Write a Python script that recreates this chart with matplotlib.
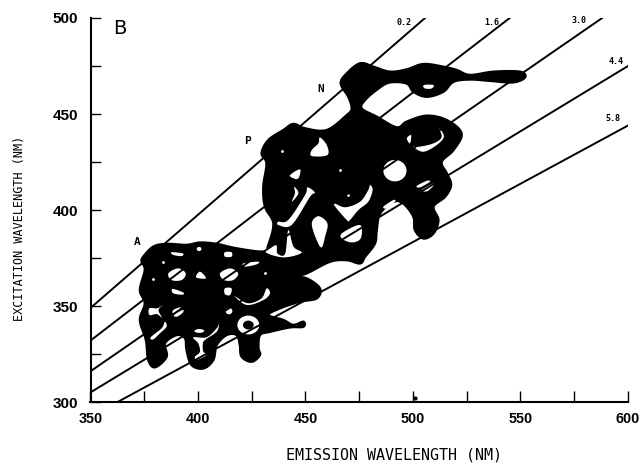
import matplotlib
matplotlib.use('Agg')
import matplotlib.pyplot as plt
import numpy as np
from matplotlib.patches import Ellipse, Polygon

# contour mass, (emission, excitation)
outline = [(374.6,375.7),(379.2,380.9),(385.4,382.3),(394.7,381.8),(400.9,383.0),(408.7,382.3),(418.0,380.0),(430.4,378.3),
    (432.7,381.7),(435.1,393.0),(431.2,401.7),(430.4,412.1),(431.9,424.3),(429.6,429.5),(432.7,436.4),(439.7,441.6),
    (444.4,444.8),(449.8,442.5),(459.9,441.6),(469.2,449.4),(471.5,452.9),(469.9,459.0),(466.4,465.9),(469.2,471.1),
    (475.4,476.4),(481.6,474.6),(489.3,472.0),(497.1,473.2),(504.8,476.0),(514.1,474.6),(520.3,472.9),(526.5,470.3),
    (537.4,472.0),(549.8,472.0),(552.1,469.1),(546.6,466.5),(535.8,467.3),(526.5,468.0),(518.8,466.8),(514.1,461.6),
    (506.4,459.0),(500.2,461.6),(497.1,465.9),(489.3,466.5),(483.9,463.3),(477.7,457.3),(476.1,452.9),(483.1,448.6),
    (492.4,443.0),(497.1,446.0),(506.4,449.1),(515.7,446.8),(522.6,439.9),(518.8,431.2),(513.3,425.1),(515.7,419.1),
    (517.7,413.0),(514.9,406.9),(509.5,401.7),(511.8,394.8),(509.5,387.8),(504.8,385.2),(500.9,389.6),(500.2,396.5),
    (495.5,403.4),(490.9,404.3),(484.7,398.2),(483.1,389.5),(482.3,382.6),(477.7,375.7),(475.4,372.2),(469.2,373.9),
    (461.4,373.1),(450.5,367.0),(444.3,365.3),(450.5,364.4),(456.7,359.2),(455.2,354.0),(447.4,352.3),(438.1,348.8),
    (432.7,345.3),(439.7,342.7),(444.3,340.1),(449.0,341.8),(449.0,339.2),(442.8,338.9),(433.5,336.6),(428.8,334.9),
    (428.1,328.0),(428.8,324.5),(425.0,321.0),(420.3,323.6),(419.5,329.7),(418.0,334.9),(413.3,334.9),(408.7,329.7),
    (407.1,321.9),(402.5,317.5),(397.0,319.3),(394.7,327.1),(394.0,333.2),(390.1,334.9),(384.6,330.6),(385.4,323.6),
    (380.0,318.1),(376.9,321.9),(375.8,332.3),(373.0,342.7),(375.3,351.4),(373.0,358.3),(375.3,368.8),(373.8,373.1)]

# white gaps inside the mass
holes = [
    [(456.7,437.8),(459.9,433.8),(460.2,428.6),(452.9,428.1),(452.9,431.2),(456.0,434.7)],
    [(442.8,418.2),(447.5,421.2),(446.7,416.5),(444.4,416.5)],
    [(452.9,393.0),(456.0,396.8),(460.2,393.0),(459.1,386.1),(457.5,380.5),(455.2,384.3)],
    [(442.0,389.6),(444.4,380.9),(448.2,377.7),(439.7,375.3),(431.2,378.3),(436.3,381.7),(436.9,377.4),(440.5,377.1)],
    [(437.4,393.9),(442.0,394.8),(449.8,407.8),(450.9,411.8),(454.4,409.0),(452.1,406.9),(443.6,392.2),(437.4,392.2)],
    [(444.7,412.1),(446.7,408.7),(443.6,404.3),(445.1,408.7)],
    [(500.2,433.0),(504.8,430.3),(511.0,433.8),(514.4,438.2),(512.2,442.5),(513.3,437.8),(509.5,434.7),(503.3,433.0)],
    [(497.1,437.3),(499.1,439.0),(498.6,434.7)],
    [(501.7,412.5),(506.4,415.2),(507.9,414.7),(503.3,411.8)],
    [(504.0,410.4),(509.5,413.9),(509.1,412.1),(506.4,409.7)],
    [(462.9,403.4),(468.4,401.4),(475.4,404.3),(479.2,410.4),(480.0,413.0),(481.2,410.4),(479.2,404.3),(474.6,400.0),(470.7,394.8),(469.2,394.8)],
    [(467.3,388.2),(475.4,392.2),(475.7,385.2),(471.5,383.1),(466.8,385.2)],
    [(504.8,465.1),(509.5,465.1),(508.7,463.3),(505.6,463.3)],
    [(486.2,401.7),(490.9,405.2),(491.6,404.3),(487.8,400.8)],
    [(387.7,378.0),(392.9,377.4),(392.4,376.0),(388.5,376.6)],
    [(412.5,378.0),(415.6,378.0),(415.6,375.7),(412.5,375.7)],
    [(421.1,372.2),(428.0,373.1),(427.3,371.7),(421.9,370.5)],
    [(386.2,367.0),(390.8,369.6),(394.3,367.0),(392.4,363.5),(387.7,363.5)],
    [(410.2,367.0),(414.9,369.6),(418.7,367.0),(416.4,363.5),(412.1,363.5)],
    [(399.1,364.9),(400.9,367.9),(403.7,364.4)],
    [(388.2,358.9),(393.2,357.0),(392.7,355.9),(388.5,356.6)],
    [(412.5,359.2),(415.6,359.2),(414.9,355.7),(412.5,356.2)],
    [(416.4,355.7),(422.6,350.5),(430.4,353.1),(433.5,356.6),(431.9,359.2),(429.6,354.0),(423.4,351.4),(418.0,354.5)],
    [(388.5,347.9),(391.6,349.3),(392.4,348.3),(388.5,346.2)],
    [(388.8,345.3),(392.9,347.9),(392.9,346.5),(390.1,344.4)],
    [(377.4,348.8),(381.1,348.8),(383.6,350.5),(381.6,347.9),(383.1,344.1),(380.8,345.8),(377.4,345.3)],
    [(378.0,333.7),(383.1,338.4),(384.6,341.8),(385.4,339.2),(382.3,335.8),(379.2,332.6)],
    [(397.8,333.7),(404.0,333.7),(408.7,338.4),(409.8,341.0),(408.7,336.6),(403.2,332.3),(402.2,329.7),(402.5,326.2),
     (404.0,324.5),(399.4,321.9),(398.6,323.6),(400.9,326.2),(400.1,330.6)],
]

# round gaps: emission, excitation, width, height
round_holes = [(491.6,420.5,10.8,11.2),(414.4,347.4,3.2,3.4),(423.4,340.1,10.2,9.8),(400.6,337.0,4.6,2.0),(400.5,379.7,2.2,2.2)]
specks = [(438.9,430.7),(466.0,420.8),(469.9,407.8),(383.9,373.1),(378.9,364.1),(431.1,367.0)]
ring_core = (423.4,340.1,5.0,4.6)

# constant-offset lines, (start) -> (end)
line_labels = ['0.2','1.6','3.0','4.4','5.8']
line_em = [(350,505.6),(350,545),(350,588),(350,600),(362.6,600)]
line_ex = [(349,500),(332,500),(316,500),(305,475),(300,444)]
label_em = [495.9,536.5,577.4,594.3,592.9]
label_ex = [497.9,497.9,498.9,477.6,447.4]

letters = ['N','P','A']
letter_em = [457.2,422.8,371.6]
letter_ex = [463,435.9,383.3]

x_ticks = list(range(350,601,25))
x_ticklabels = ['350','','400','','450','','500','','550','','600']
y_ticks = list(range(300,501,25))
y_ticklabels = ['300','','350','','400','','450','','500']

mono = 'DejaVu Sans Mono'
tick_font = 'Liberation Sans'


def rounded(pts, n=6):
    # closed catmull-rom, the blobs are round in the original
    p = np.array(pts)
    out = []
    for i in range(len(p)):
        p0, p1, p2, p3 = p[i-1], p[i], p[(i+1) % len(p)], p[(i+2) % len(p)]
        for t in np.linspace(0, 1, n, endpoint=False):
            out.append(0.5*(2*p1 + (p2-p0)*t + (2*p0-5*p1+4*p2-p3)*t**2 + (3*p1-p0-3*p2+p3)*t**3))
    return np.array(out)


fig = plt.figure(figsize=(6.4,4.65),dpi=100)
ax = fig.add_axes([90.5/640,63/465,537.5/640,384/465])
ax.set_xlim(350,600)
ax.set_ylim(300,500)

ax.add_patch(Polygon(rounded(outline),closed=True,fc='black',ec='black',lw=1.8,joinstyle='round',zorder=2))
for h in holes:
    ax.add_patch(Polygon(rounded(h),closed=True,fc='white',ec='none',zorder=3))
for em,ex,w,h in round_holes:
    ax.add_patch(Ellipse((em,ex),w,h,fc='white',ec='none',zorder=3))
ax.add_patch(Ellipse(ring_core[:2],ring_core[2],ring_core[3],fc='black',ec='none',zorder=3))
ax.scatter([s[0] for s in specks],[s[1] for s in specks],s=4,c='white',linewidths=0,zorder=3)

for e,x in zip(line_em,line_ex):
    ax.plot(e,x,color='black',lw=1.4,zorder=4)
for t,e,x in zip(line_labels,label_em,label_ex):
    ax.text(e,x,t,fontsize=6,fontweight='bold',ha='center',va='center',family=mono)
for t,e,x in zip(letters,letter_em,letter_ex):
    ax.text(e,x,t,fontsize=8,fontweight='bold',ha='center',va='center',family=mono)
ax.text(363.7,494.3,'B',fontsize=14,ha='center',va='center')
ax.plot([500.9],[302],'o',color='black',ms=2,zorder=4)

for s in ['top','right']:
    ax.spines[s].set_visible(False)
for s in ['left','bottom']:
    ax.spines[s].set_linewidth(1.5)
ax.set_xticks(x_ticks)
ax.set_xticklabels(x_ticklabels,family=tick_font,fontsize=10.4,fontweight='bold')
ax.set_yticks(y_ticks)
ax.set_yticklabels(y_ticklabels,family=tick_font,fontsize=11,fontweight='bold')
ax.tick_params(axis='x',direction='in',length=8,width=1,pad=7)
ax.tick_params(axis='y',direction='in',length=7,width=1,pad=9)

fig.text(394/640,1-455/465,'EMISSION WAVELENGTH (NM)',fontsize=10.8,family=mono,ha='center',va='center')
fig.text(20/640,1-228/465,'EXCITATION WAVELENGTH (NM)',fontsize=8.5,family=mono,rotation=90,ha='center',va='center')

fig.savefig('out.png',dpi=100)
